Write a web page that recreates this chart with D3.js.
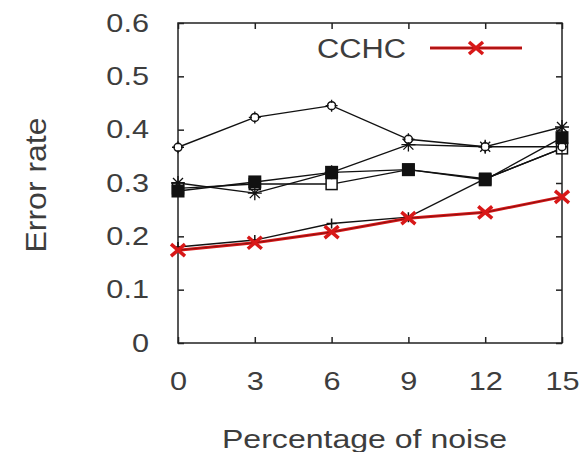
<!DOCTYPE html>
<html>
<head>
<meta charset="utf-8">
<script src="https://cdn.jsdelivr.net/npm/d3@7"></script>
<style>
  body { margin: 0; background: #fff; }
  text { font-family: "Liberation Sans", Arial, sans-serif; fill: #3d3d3d; }
</style>
</head>
<body>
<svg id="chart" width="587" height="452"></svg>
<script>
'use strict';

// x positions (percentage of noise) and tick labels
var noise = [0, 3, 6, 9, 12, 15];
var xTickLabels = ["0", "3", "6", "9", "12", "15"];
var yTicks = [0, 0.1, 0.2, 0.3, 0.4, 0.5, 0.6];
var yTickLabels = ["0", "0.1", "0.2", "0.3", "0.4", "0.5", "0.6"];

// error rates
var circleSeries = [0.367, 0.423, 0.445, 0.382, 0.368, 0.368];
var starSeries   = [0.300, 0.281, 0.320, 0.372, 0.368, 0.405];
var filledSquare = [0.285, 0.302, 0.320, 0.325, 0.306, 0.385];
var openSquare   = [0.290, 0.298, 0.298, 0.325, 0.308, 0.365];
var plusSeries   = [0.180, 0.193, 0.224, 0.236, 0.308, 0.365];
var cchc         = [0.174, 0.188, 0.208, 0.234, 0.245, 0.274];

var svg = d3.select('#chart');

// plot box (window.top is read-only, so no bare "top")
var box = { left: 178, right: 562, top: 23, bottom: 343 };

var x = d3.scaleLinear().domain([0, 15]).range([box.left, box.right]);
var y = d3.scaleLinear().domain([0, 0.6]).range([box.bottom, box.top]);

// stretch a text horizontally (the original font runs wide)
function widen(sel, k) {
	sel.each(function () {
		var w = this.getComputedTextLength();
		d3.select(this).attr('textLength', w * k).attr('lengthAdjust', 'spacingAndGlyphs');
	});
}

// axes: inward ticks on all four sides
var axL = svg.append('g').attr('transform', 'translate(' + box.left + ',0)')
	.call(d3.axisLeft(y).tickValues(yTicks).tickFormat((d, i) => yTickLabels[i])
		.tickSizeInner(-6).tickSizeOuter(0).tickPadding(29));
var axB = svg.append('g').attr('transform', 'translate(0,' + box.bottom + ')')
	.call(d3.axisBottom(x).tickValues(noise).tickFormat((d, i) => xTickLabels[i])
		.tickSizeInner(-6).tickSizeOuter(0).tickPadding(29));
svg.append('g').attr('transform', 'translate(' + box.right + ',0)')
	.call(d3.axisRight(y).tickValues(yTicks).tickFormat('').tickSizeInner(-6).tickSizeOuter(0));
svg.append('g').attr('transform', 'translate(0,' + box.top + ')')
	.call(d3.axisTop(x).tickValues(noise).tickFormat('').tickSizeInner(-6).tickSizeOuter(0));

svg.selectAll('.domain').remove();
svg.selectAll('.tick line').attr('stroke', '#222').attr('stroke-width', 1.5);
svg.selectAll('.tick text').attr('font-size', 26).attr('fill', '#3d3d3d')
	.attr('font-family', '"Liberation Sans", Arial, sans-serif');
widen(axL.selectAll('.tick text'), 1.18);
widen(axB.selectAll('.tick text'), 1.18);

svg.append('rect')
	.attr('x', box.left).attr('y', box.top)
	.attr('width', box.right - box.left).attr('height', box.bottom - box.top)
	.attr('fill', 'none').attr('stroke', '#222').attr('stroke-width', 1.5);

// axis titles
svg.append('text')
	.attr('x', (222 + 507) / 2).attr('y', 448)
	.attr('text-anchor', 'middle').attr('font-size', 26)
	.attr('textLength', 285).attr('lengthAdjust', 'spacingAndGlyphs')
	.text('Percentage of noise');
svg.append('text')
	.attr('transform', 'translate(46,185) rotate(-90)')
	.attr('text-anchor', 'middle').attr('font-size', 29)
	.attr('textLength', 135).attr('lengthAdjust', 'spacingAndGlyphs')
	.text('Error rate');

var line = d3.line().x((d, i) => x(noise[i])).y(d => y(d));

// marker painters
function circleMark(g) {
	g.append('circle').attr('r', 4).attr('fill', '#fff').attr('stroke', '#111').attr('stroke-width', 1.5);
	g.append('path').attr('d', 'M0,-6V-3M0,3V6M-6,0H-3M3,0H6').attr('stroke', '#111').attr('stroke-width', 1.3);
}
function starMark(g) {
	g.append('path').attr('d', 'M-7,0H7M0,-7V7M-5,-5L5,5M-5,5L5,-5').attr('stroke', '#111').attr('stroke-width', 1.3);
}
function filledSquareMark(g) {
	g.append('rect').attr('x', -6.5).attr('y', -6.5).attr('width', 13).attr('height', 13).attr('fill', '#111');
}
function openSquareMark(g) {
	g.append('rect').attr('x', -5.5).attr('y', -5.5).attr('width', 11).attr('height', 11)
		.attr('fill', '#fff').attr('stroke', '#111').attr('stroke-width', 1.5);
}
function plusMark(g) {
	g.append('path').attr('d', 'M-5,0H5M0,-5V5').attr('stroke', '#111').attr('stroke-width', 1.5);
}
function crossMark(g) {
	g.append('path').attr('d', 'M-7,-6L7,6M-7,6L7,-6').attr('stroke', '#d81818').attr('stroke-width', 3.5);
}

var series = [
	{ values: plusSeries,   mark: plusMark },
	{ values: openSquare,   mark: openSquareMark },
	{ values: starSeries,   mark: starMark },
	{ values: circleSeries, mark: circleMark },
	{ values: filledSquare, mark: filledSquareMark }
];

series.forEach(function (s) {
	svg.append('path').datum(s.values)
		.attr('d', line).attr('fill', 'none')
		.attr('stroke', '#111').attr('stroke-width', 1.4);
});
series.forEach(function (s) {
	s.values.forEach(function (v, i) {
		var g = svg.append('g').attr('transform', 'translate(' + x(noise[i]) + ',' + y(v) + ')');
		s.mark(g);
	});
});

// CCHC in red on top
svg.append('path').datum(cchc)
	.attr('d', line).attr('fill', 'none')
	.attr('stroke', '#d81818').attr('stroke-width', 3);
svg.append('path').datum(cchc)
	.attr('d', line).attr('fill', 'none')
	.attr('stroke', '#8a1010').attr('stroke-width', 1);
cchc.forEach(function (v, i) {
	crossMark(svg.append('g').attr('transform', 'translate(' + x(noise[i]) + ',' + y(v) + ')'));
});

// legend
var leg = svg.append('g');
leg.append('text').attr('x', 406).attr('y', 58).attr('text-anchor', 'end')
	.attr('font-size', 27).attr('textLength', 89).attr('lengthAdjust', 'spacingAndGlyphs')
	.text('CCHC');
leg.append('line').attr('x1', 430).attr('x2', 522).attr('y1', 48).attr('y2', 48)
	.attr('stroke', '#d81818').attr('stroke-width', 3);
leg.append('line').attr('x1', 430).attr('x2', 522).attr('y1', 48).attr('y2', 48)
	.attr('stroke', '#8a1010').attr('stroke-width', 1);
crossMark(leg.append('g').attr('transform', 'translate(476,48)'));
</script>
</body>
</html>
